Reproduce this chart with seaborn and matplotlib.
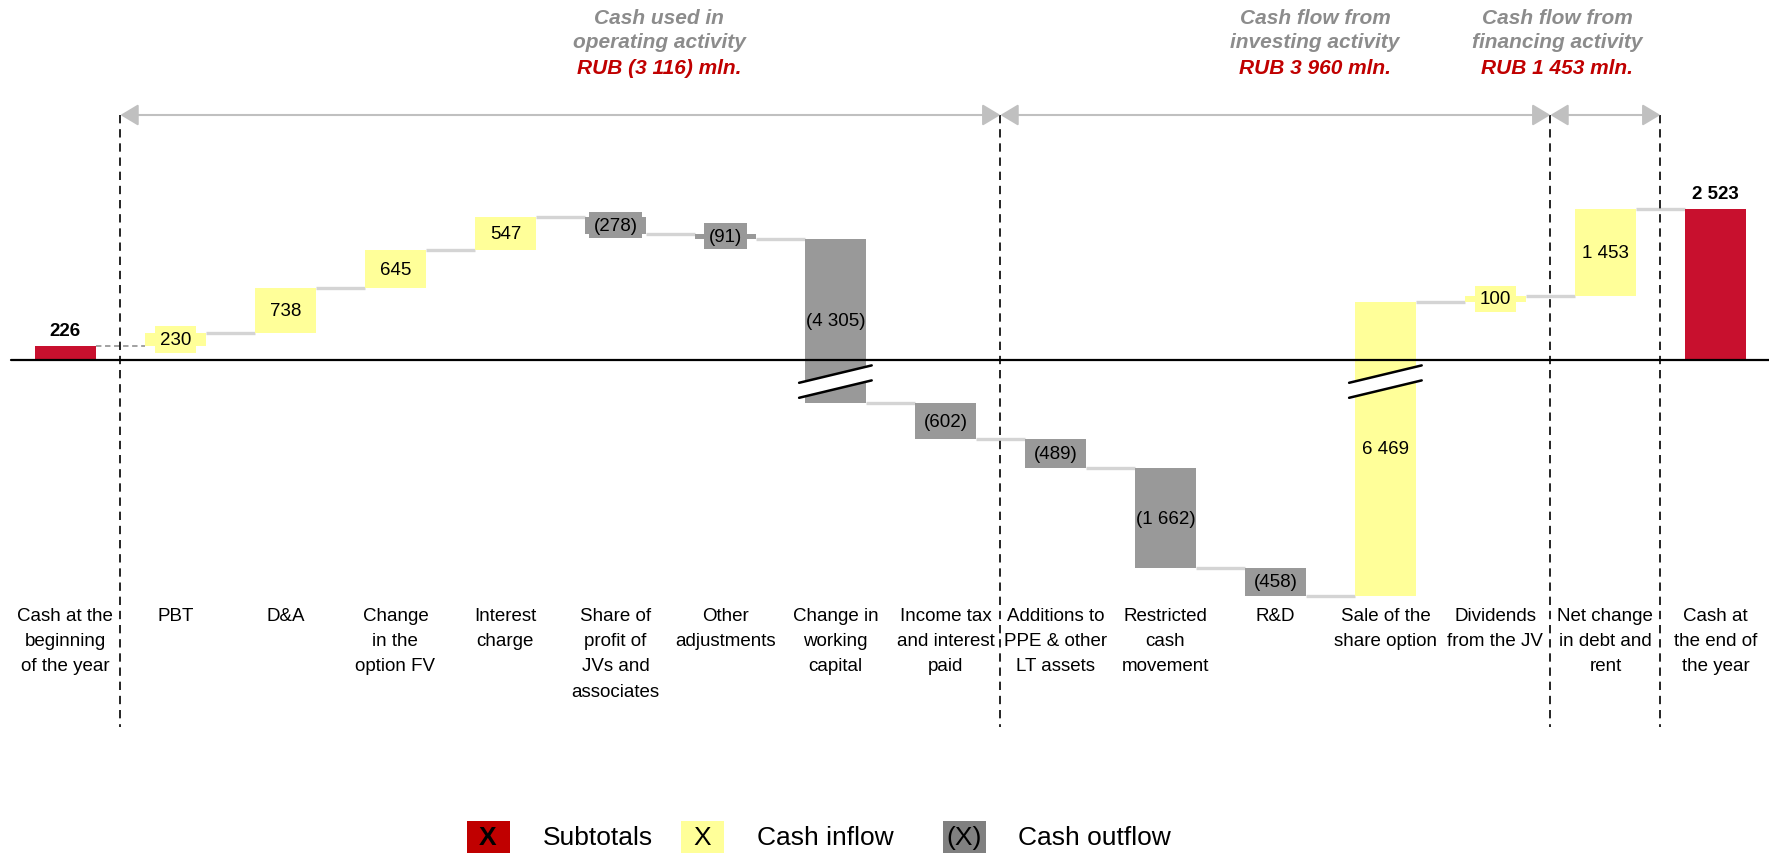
import numpy as np
import pandas as pd
import matplotlib
matplotlib.use("Agg")
import matplotlib.pyplot as plt
import seaborn as sns
from matplotlib.patches import Rectangle, Polygon

# ---------------- data ----------------
categories = [
    "Cash at the\nbeginning\nof the year", "PBT", "D&A", "Change\nin the\noption FV",
    "Interest\ncharge", "Share of\nprofit of\nJVs and\nassociates", "Other\nadjustments",
    "Change in\nworking\ncapital", "Income tax\nand interest\npaid", "Additions to\nPPE & other\nLT assets",
    "Restricted\ncash\nmovement", "R&D", "Sale of the\nshare option", "Dividends\nfrom the JV",
    "Net change\nin debt and\nrent", "Cash at\nthe end of\nthe year",
]
values = [226, 230, 738, 645, 547, -278, -91, -4305, -602, -489, -1662, -458, 6469, 100, 1453, 2523]
kinds = ["total"] + ["flow"] * 14 + ["total"]
section_titles = ["Cash used in\noperating activity", "Cash flow from\ninvesting activity",
                  "Cash flow from\nfinancing activity"]
section_totals = [-3116, 3960, 1453]
legend_labels = ["Subtotals", "Cash inflow", "Cash outflow"]
legend_marks = ["X", "X", "(X)"]

# ---------------- style / layout ----------------
RED = "#C8102E"
YELLOW = "#FFFF99"
GRAY = "#999999"
LEG_COLORS = ["#C00000", "#FFFF99", "#808080"]
CONN = "#D4D4D4"
BREAK = 1571          # compressed axis segment below zero
W, H = 1769, 854
PX_PER_UNIT = 0.06
ZERO_PX = 361
X0_PX, STEP_PX = 65.4, 110.0
bounds = [0.5, 8.5, 13.5, 14.5]
title_x = [5.40, 11.36, 13.56]

sns.set_theme(style="white")
plt.rcParams["font.family"] = ["Liberation Sans", "DejaVu Sans"]

def fmt(v):
    s = f"{abs(v):,}".replace(",", " ")
    return f"({s})" if v < 0 else s

def disp(v):
    return v + BREAK if v < 0 else v

fig = plt.figure(figsize=(W / 100, H / 100), dpi=100)
ax = fig.add_axes([0, 0, 1, 1])

# waterfall geometry
cum = 0
bottoms, heights, levels, colors, starts, ends = [], [], [], [], [], []
for v, k in zip(values, kinds):
    if k == "total":
        s, e = 0, v
        cum = v
        c = RED
    else:
        s, e = cum, cum + v
        cum += v
        c = YELLOW if v > 0 else GRAY
    lo, hi = sorted([disp(s), disp(e)])
    bottoms.append(lo)
    heights.append(hi - lo)
    levels.append(cum)
    colors.append(c)
    starts.append(s)
    ends.append(e)

df = pd.DataFrame({"cat": categories, "height": heights})
sns.barplot(data=df, x="cat", y="height", order=categories, bottom=bottoms,
            width=0.56, color=GRAY, saturation=1, errorbar=None, linewidth=0, ax=ax, zorder=2)
for p, c in zip(ax.patches, colors):
    p.set_facecolor(c)
    p.set_edgecolor("none")

n = len(values)
xmin = -X0_PX / STEP_PX
xmax = (W - X0_PX) / STEP_PX
ymax = ZERO_PX / PX_PER_UNIT
ymin = -(H - ZERO_PX) / PX_PER_UNIT
ax.set_xlim(xmin, xmax)
ax.set_ylim(ymin, ymax)
ax.axis("off")

hw = 0.28
# connectors
for i in range(n - 1):
    y = disp(levels[i])
    if i == 0:
        ax.plot([i + hw, i + 1 - hw], [y, y], color="#9A9A9A", lw=1.3, ls=(0, (3, 2)), zorder=1)
    else:
        ax.plot([i + hw, i + 1 - hw], [y, y], color=CONN, lw=2.4, zorder=1, solid_capstyle="butt")

# zero line
ax.axhline(0, xmin=11 / W, xmax=1, color="black", lw=1.6, zorder=3)

# break marks for bars crossing zero
for i in range(n):
    if kinds[i] == "flow" and (starts[i] > 0) != (ends[i] > 0):
        xl, xr = i - 0.33, i + 0.33
        up_l, up_r, lo_l, lo_r = -380, -90, -630, -340
        ax.add_patch(Polygon([[xl, up_l], [xr, up_r], [xr, lo_r], [xl, lo_l]],
                             closed=True, facecolor="white", edgecolor="none", zorder=4))
        ax.plot([xl, xr], [up_l, up_r], color="black", lw=1.8, zorder=5)
        ax.plot([xl, xr], [lo_l, lo_r], color="black", lw=1.8, zorder=5)

# value labels
FS = 13.5
for i, (v, k) in enumerate(zip(values, kinds)):
    if k == "total":
        ax.annotate(fmt(v), (i, bottoms[i] + heights[i]), xytext=(0, 5), textcoords="offset points",
                    ha="center", va="bottom", fontsize=FS, fontweight="bold", color="black", zorder=6)
    else:
        yc = bottoms[i] + heights[i] / 2
        hpx = heights[i] * PX_PER_UNIT
        kw = {}
        if hpx < 22:
            kw["bbox"] = dict(boxstyle="square,pad=0.25", facecolor=colors[i], edgecolor="none")
        ax.text(i, yc, fmt(v), ha="center", va="center", fontsize=FS, color="black", zorder=6, **kw)

# category labels
tx = ax.get_xaxis_transform()
for i, c in enumerate(categories):
    ax.text(i, 1 - 608 / H, c, transform=tx, ha="center", va="top", fontsize=FS,
            linespacing=1.63, color="black")

# section separators and arrows
arrow_y = 1 - 116 / H
for b in bounds:
    ax.plot([b, b], [arrow_y, 1 - 728 / H], transform=tx, color="black", lw=1.2,
            ls=(0, (5, 3.5)), zorder=1)
for a, b in zip(bounds[:-1], bounds[1:]):
    ax.annotate("", xy=(b, arrow_y), xytext=(a, arrow_y), xycoords=tx, textcoords=tx,
                arrowprops=dict(arrowstyle="<|-|>,head_length=1.0,head_width=0.6",
                                color="#C0C0C0", lw=1.5, shrinkA=0, shrinkB=0,
                                mutation_scale=11))

# section titles
for t, tot, x in zip(section_titles, section_totals, title_x):
    l1, l2 = t.split("\n")
    ax.text(x, 1 - 19 / H, l1, transform=tx, ha="center", va="center", fontsize=15,
            fontweight="bold", style="italic", color="#8C8C8C")
    ax.text(x, 1 - 43 / H, l2, transform=tx, ha="center", va="center", fontsize=15,
            fontweight="bold", style="italic", color="#8C8C8C")
    ax.text(x, 1 - 68 / H, f"RUB {fmt(tot)} mln.", transform=tx, ha="center", va="center",
            fontsize=15, fontweight="bold", style="italic", color="#C00000")

# legend
box_cx = [488, 702, 964]
text_x = [543, 757, 1018]
leg_y = 838
for cx, tx_, col, mark, lab in zip(box_cx, text_x, LEG_COLORS, legend_marks, legend_labels):
    fig.patches.append(Rectangle(((cx - 21.5) / W, (H - leg_y - 16) / H), 43 / W, 32 / H,
                                 transform=fig.transFigure, facecolor=col, edgecolor="none"))
    fig.text(cx / W, 1 - leg_y / H, mark, ha="center", va="center", fontsize=19,
             fontweight="bold" if mark == "X" and col == LEG_COLORS[0] else "normal", color="black")
    fig.text(tx_ / W, 1 - leg_y / H, lab, ha="left", va="center", fontsize=19, color="black")

fig.savefig("out.png", dpi=100, facecolor="white")
